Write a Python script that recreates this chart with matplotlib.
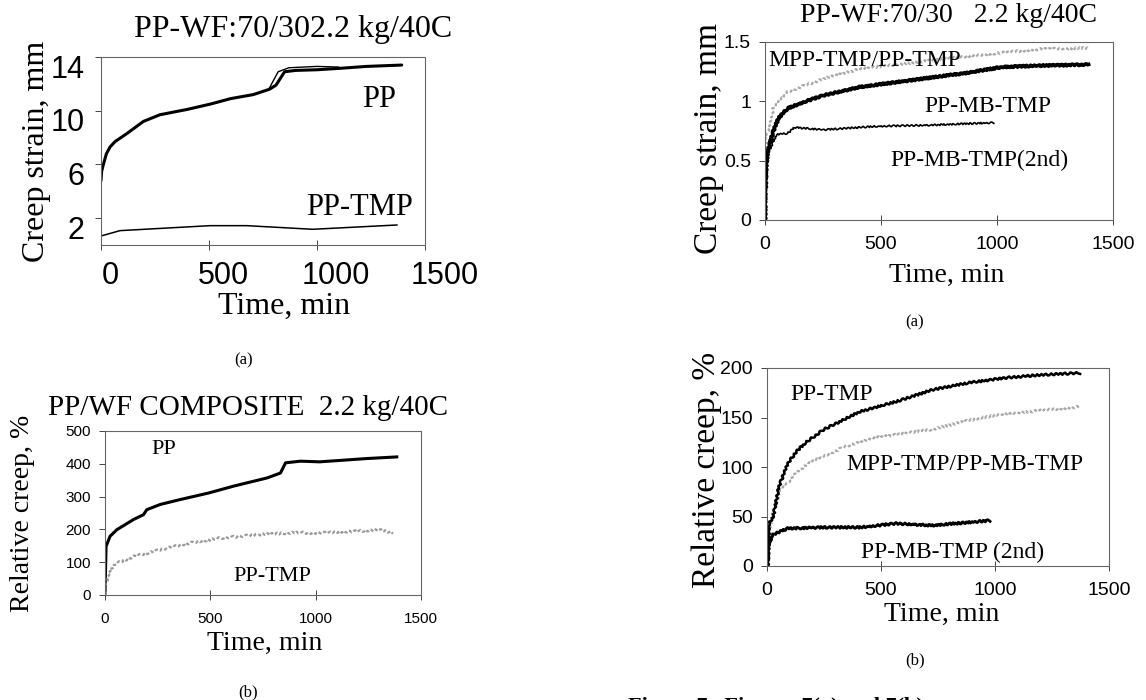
import matplotlib
matplotlib.use("Agg")
import matplotlib.pyplot as plt
from matplotlib.transforms import ScaledTranslation

W, H = 1146, 700
SERIF = "Liberation Serif"
SANS = "Liberation Sans"

# ---- (a) left: PP-WF 70/30, creep strain (mm)
tl_pp_t = [0, 3, 11, 25, 42, 65, 120, 196, 273, 400, 508, 600, 705, 780, 810, 830, 850, 900, 1000, 1100, 1230, 1392]
tl_pp_v = [4.8, 5.5, 6.0, 6.8, 7.3, 7.7, 8.3, 9.2, 9.7, 10.1, 10.5, 10.9, 11.2, 11.6, 11.9, 12.4, 12.9, 13.0, 13.05, 13.15, 13.3, 13.4]
tl_pp2_t = [780, 820, 870, 1000, 1100]
tl_pp2_v = [11.7, 12.9, 13.2, 13.3, 13.25]
tl_tmp_t = [0, 88, 505, 675, 980, 1370]
tl_tmp_v = [0.67, 1.07, 1.44, 1.44, 1.17, 1.49]

# ---- (b) left: PP/WF composite, relative creep (%)
bl_pp_t = [0, 5, 24, 56, 135, 183, 198, 262, 357, 492, 611, 770, 833, 857, 928, 1019, 1131, 1242, 1385]
bl_pp_v = [0, 148, 179, 199, 230, 245, 260, 276, 291, 311, 332, 357, 372, 403, 408, 406, 411, 416, 421]
bl_tmp_t = [0, 5, 24, 56, 135, 262, 398, 539, 727, 930, 971, 1306, 1369]
bl_tmp_v = [0, 36, 77, 97, 117, 138, 158, 173, 184, 191, 188, 198, 190]

# ---- (a) right: creep strain (mm)
tr_mpp_t = [0, 5, 36, 97, 252, 406, 561, 870, 1024, 1179, 1395]
tr_mpp_v = [0, 0.69, 0.94, 1.08, 1.19, 1.27, 1.31, 1.38, 1.41, 1.44, 1.45]
tr_mb_t = [0, 5, 12, 36, 59, 97, 175, 252, 406, 561, 715, 870, 1024, 1179, 1395]
tr_mb_v = [0, 0.45, 0.58, 0.75, 0.86, 0.94, 1.0, 1.05, 1.12, 1.16, 1.20, 1.24, 1.29, 1.30, 1.31]
tr_mb2_t = [5, 51, 97, 128, 252, 484, 715, 986]
tr_mb2_v = [0.53, 0.72, 0.73, 0.78, 0.76, 0.79, 0.80, 0.82]

# ---- (b) right: relative creep (%)
br_tmp_t = [0, 5, 9, 28, 52, 92, 131, 171, 250, 408, 566, 725, 883, 1041, 1199, 1373]
br_tmp_v = [0, 2, 43, 50, 80, 104, 116, 125, 138, 156, 166, 178, 185, 190, 193, 195]
br_mpp_t = [0, 13, 28, 60, 92, 123, 187, 250, 345, 487, 725, 883, 1041, 1199, 1373]
br_mpp_v = [0, 36, 56, 77, 84, 94, 104, 111, 121, 130, 138, 147, 154, 157, 161]
br_mb2_t = [0, 9, 28, 92, 250, 408, 566, 725, 883, 978]
br_mb2_v = [0, 22, 32, 38, 39, 39, 43, 41, 44, 46]

time_ticks = [0, 500, 1000, 1500]


def box(l, t, r, b):
    return [l / W, 1 - b / H, (r - l) / W, (b - t) / H]


def ftext(x, y, s, size, **kw):
    fig.text(x / W, 1 - y / H, s, fontsize=size, family=SERIF,
             ha="center", va="center", **kw)


def style(ax, tick_size, pad_x, pad_y):
    for sp in ax.spines.values():
        sp.set_color("#666666")
        sp.set_linewidth(0.8)
        sp.set_linestyle((0, (1, 1)))
    ax.tick_params(axis="x", direction="inout", length=7, width=0.7,
                   color="#444444", labelsize=tick_size, pad=pad_x,
                   labelfontfamily=SANS)
    ax.tick_params(axis="y", direction="out", length=4, width=0.7,
                   color="#444444", labelsize=tick_size, pad=pad_y,
                   labelfontfamily=SANS)
    ax.set_xticks(time_ticks)
    ax.set_xlim(0, 1500)


fig = plt.figure(figsize=(W / 100, H / 100), dpi=100)

# ---------------- top left
ax = fig.add_axes(box(101, 57, 425, 245))
ax.plot(tl_pp_t, tl_pp_v, color="black", lw=2.2, solid_capstyle="round")
ax.plot(tl_pp2_t, tl_pp2_v, color="black", lw=1.0)
ax.plot(tl_tmp_t, tl_tmp_v, color="black", lw=1.1)
style(ax, 22, 8, 8)
ax.set_ylim(0, 14)
ax.set_yticks([2, 6, 10, 14])
ax.text(1287, 10.8, "PP", fontsize=22, family=SERIF, ha="center", va="center")
ax.text(1195, 2.8, "PP-TMP", fontsize=22, family=SERIF, ha="center", va="center")
for lbl, dx in zip(ax.get_xticklabels(), [9, 14, 19, 20]):
    lbl.set_transform(lbl.get_transform() + ScaledTranslation(dx / 100, 0, fig.dpi_scale_trans))
for lbl in ax.get_yticklabels():
    lbl.set_transform(lbl.get_transform() + ScaledTranslation(0, -9 / 100, fig.dpi_scale_trans))
ftext(293, 30, "PP-WF:70/302.2 kg/40C", 23)
ftext(37, 151, "Creep strain, mm", 23, rotation=90)
ftext(284, 306, "Time, min", 23)
ftext(244, 360, "(a)", 12)

# ---------------- bottom left
ax = fig.add_axes(box(105, 431, 421, 595))
ax.plot(bl_pp_t, bl_pp_v, color="black", lw=2.2)
ln, = ax.plot(bl_tmp_t, bl_tmp_v, color="#9a9a9a", lw=1.6, ls=(0, (1.5, 1)))
ln.set_sketch_params(1.0, 6, 2)
style(ax, 11, 9, 6)
ax.set_ylim(0, 500)
ax.set_yticks([0, 100, 200, 300, 400, 500])
ax.text(278, 444, "PP", fontsize=16, family=SERIF, ha="center", va="center")
ax.text(793, 56, "PP-TMP", fontsize=16, family=SERIF, ha="center", va="center")
ftext(248, 408, "PP/WF COMPOSITE  2.2 kg/40C", 21)
ftext(23, 513, "Relative creep, %", 20, rotation=90)
ftext(265, 643, "Time, min", 20)
ftext(248, 692, "(b)", 12)

# ---------------- top right
ax = fig.add_axes(box(765, 42, 1113, 220))
ln, = ax.plot(tr_mpp_t, tr_mpp_v, color="#a8a8a8", lw=1.6, ls=(0, (1.5, 1)))
ln.set_sketch_params(1.0, 5, 2)
ln, = ax.plot(tr_mb_t, tr_mb_v, color="black", lw=2.6)
ln.set_sketch_params(0.8, 4, 2)
ln, = ax.plot(tr_mb2_t, tr_mb2_v, color="black", lw=1.2)
ln.set_sketch_params(0.8, 4, 2)
style(ax, 14, 8, 6)
ax.set_ylim(0, 1.5)
ax.set_yticks([0, 0.5, 1, 1.5])
ax.set_yticklabels(["0", "0.5", "1", "1.5"])
ax.text(429, 1.34, "MPP-TMP/PP-TMP", fontsize=17, family=SERIF, ha="center", va="center")
ax.text(962, 0.955, "PP-MB-TMP", fontsize=17, family=SERIF, ha="center", va="center")
ax.text(924, 0.50, "PP-MB-TMP(2nd)", fontsize=17, family=SERIF, ha="center", va="center")
ftext(948, 15, "PP-WF:70/30   2.2 kg/40C", 20)
ftext(709, 138, "Creep strain, mm", 24, rotation=90)
ftext(947, 275, "Time, min", 20)
ftext(915, 322, "(a)", 12)

# ---------------- bottom right
ax = fig.add_axes(box(767, 368, 1109, 566))
ln, = ax.plot(br_mpp_t, br_mpp_v, color="#a8a8a8", lw=1.6, ls=(0, (1.5, 1)))
ln.set_sketch_params(1.0, 5, 2)
ln, = ax.plot(br_tmp_t, br_tmp_v, color="black", lw=1.8)
ln.set_sketch_params(1.0, 5, 2)
ln, = ax.plot(br_mb2_t, br_mb2_v, color="black", lw=2.0)
ln.set_sketch_params(1.0, 4, 2)
style(ax, 14, 8, 6)
ax.set_ylim(0, 200)
ax.set_yticks([0, 50, 100, 150, 200])
ax.text(282, 173, "PP-TMP", fontsize=17, family=SERIF, ha="center", va="center")
ax.text(870, 103, "MPP-TMP/PP-MB-TMP", fontsize=17, family=SERIF, ha="center", va="center")
ax.text(815, 14, "PP-MB-TMP (2nd)", fontsize=17, family=SERIF, ha="center", va="center")
ftext(707, 470, "Relative creep, %", 24, rotation=90)
ftext(942, 614, "Time, min", 20)
ftext(915, 660, "(b)", 12)

fig.text(628 / W, 1 - 697 / H, "Figure 7.  Figures 7(a) and 7(b)", fontsize=16,
         family=SERIF, weight="bold", ha="left", va="top")

fig.savefig("out.png", dpi=100)
